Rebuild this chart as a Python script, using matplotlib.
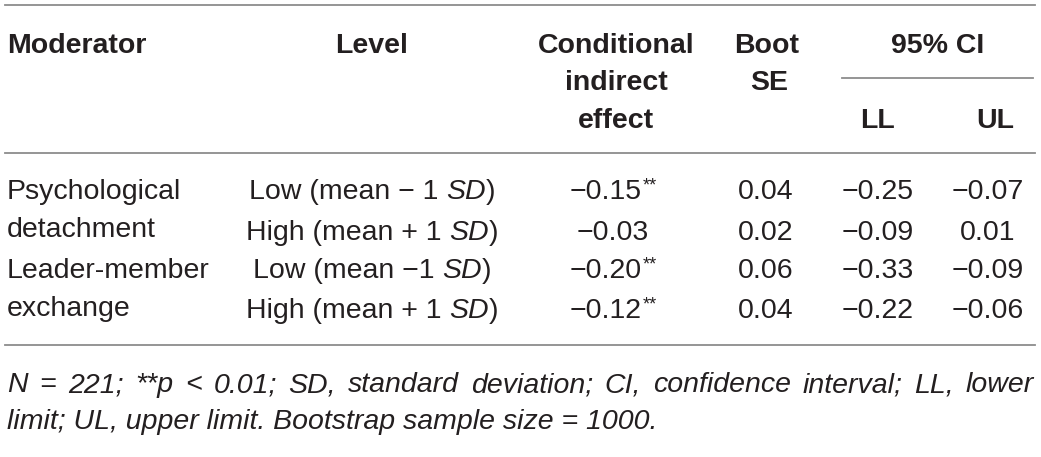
import matplotlib
matplotlib.use("Agg")
import matplotlib.pyplot as plt

# table content
moderators = [["Psychological", "detachment"], ["Leader-member", "exchange"]]
levels = ["Low (mean \u2212 1 SD)", "High (mean + 1 SD)",
          "Low (mean \u22121 SD)", "High (mean + 1 SD)"]
effect = [-0.15, -0.03, -0.20, -0.12]
stars = ["**", "", "**", "**"]
boot_se = [0.04, 0.02, 0.06, 0.04]
ci_ll = [-0.25, -0.09, -0.33, -0.22]
ci_ul = [-0.07, 0.01, -0.09, -0.06]

note_1 = "N = 221; **p < 0.01; SD, standard deviation; CI, confidence interval; LL, lower"
note_2 = "limit; UL, upper limit. Bootstrap sample size = 1000."

plt.rcParams["font.family"] = ["Liberation Sans", "DejaVu Sans"]
TXT = "#231f20"
RULE = "#8c8c8c"
FS = 20.5
FS_NOTE = 20.5

W, H = 1041, 457
fig = plt.figure(figsize=(W / 100, H / 100), dpi=100)
ax = fig.add_axes([0, 0, 1, 1])
ax.set_xlim(0, W)
ax.set_ylim(H, 0)
ax.axis("off")
renderer = fig.canvas.get_renderer()


def fmt(v):
    return f"{v:.2f}".replace("-", "\u2212")


def text_w(t):
    return t.get_window_extent(renderer).width


def draw_runs(x, y, pieces, ha="left"):
    # pieces: (string, style, gap before it in px)
    items = []
    for s, style, gap in pieces:
        t = ax.text(0, y, s, va="baseline", ha="left", color=TXT,
                    fontsize=FS, fontstyle=style)
        items.append((t, gap))
    total = sum(text_w(t) + g for t, g in items)
    x0 = x - total / 2 if ha == "center" else x
    for t, g in items:
        x0 += g
        t.set_x(x0)
        x0 += text_w(t)


def number(x, y, s, star=""):
    t = ax.text(x, y, s, va="baseline", ha="center", color=TXT, fontsize=FS)
    if star:
        w = text_w(t)
        st = ax.text(0, y - 9, star, va="baseline", ha="left", color=TXT, fontsize=13)
        sw = text_w(st)
        left = x - (w + sw + 1) / 2
        t.set_ha("left")
        t.set_x(left)
        st.set_x(left + w + 1)


# rules
ax.plot([5, 1035], [5, 5], color=RULE, lw=1.3)
ax.plot([5, 1035], [153, 153], color=RULE, lw=1.3)
ax.plot([5, 1035], [345, 345], color=RULE, lw=1.3)
ax.plot([842, 1033], [78, 78], color=RULE, lw=1.3)

# header
hdr = dict(va="baseline", color=TXT, fontsize=FS, fontweight="bold")
ax.text(7, 53, "Moderator", ha="left", **hdr)
ax.text(372, 53, "Level", ha="center", **hdr)
for s, yy in zip(["Conditional", "indirect", "effect"], [53, 90, 128]):
    ax.text(616, yy, s, ha="center", **hdr)
ax.text(767, 53, "Boot", ha="center", **hdr)
ax.text(769, 90, "SE", ha="center", **hdr)
ax.text(938, 53, "95% CI", ha="center", **hdr)
ax.text(878, 128, "LL", ha="center", **hdr)
ax.text(995, 128, "UL", ha="center", **hdr)

# body
row_y = [199, 240, 278, 318]
sp = 0.278 * FS * 100 / 72
for i, lines in enumerate(moderators):
    y0 = row_y[2 * i]
    for j, s in enumerate(lines):
        ax.text(7, y0 + 38 * j, s, va="baseline", ha="left", color=TXT, fontsize=FS)

for i, y in enumerate(row_y):
    head, tail = levels[i].split("SD")
    draw_runs(372, y, [(head.rstrip(), "normal", 0), ("SD", "italic", sp),
                       (tail, "normal", 0)], ha="center")
    number(613, y, fmt(effect[i]), stars[i])
    number(766, y, fmt(boot_se[i]))
    number(878, y, fmt(ci_ll[i]))
    number(988, y, fmt(ci_ul[i]))

# footnote, first line justified
words = note_1.split(" ")
wt = [ax.text(0, 392, w, va="baseline", ha="left", color=TXT,
              fontsize=FS_NOTE, fontstyle="italic") for w in words]
widths = [text_w(t) for t in wt]
gap = (1034 - 7 - sum(widths)) / (len(words) - 1)
xx = 7
for t, w in zip(wt, widths):
    t.set_x(xx)
    xx += w + gap
ax.text(7, 429, note_2, va="baseline", ha="left", color=TXT,
        fontsize=FS_NOTE, fontstyle="italic")

fig.savefig("out.png", dpi=100)
